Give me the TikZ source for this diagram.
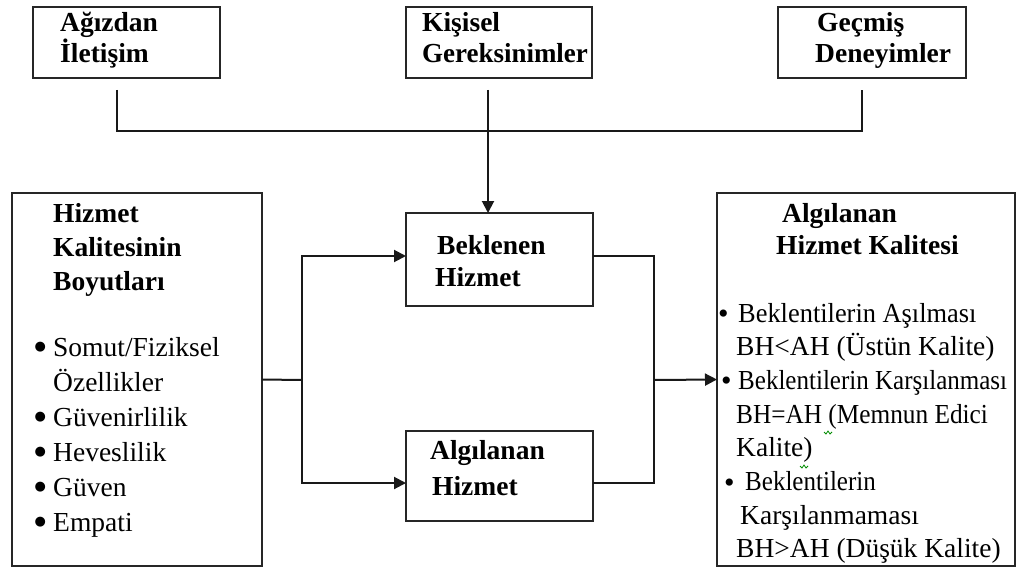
\documentclass[tikz,border=0pt]{standalone}
\usepackage{fontspec}
\setmainfont{Liberation Serif}
\newfontfamily\dejavu{DejaVu Sans}
\usetikzlibrary{arrows.meta}
\newcommand\lbul{\makebox[18pt][l]{\kern-0.5pt\raisebox{6pt}{\dejavu\fontsize{13}{13}\selectfont ●}}}
\newcommand\rbul{\raisebox{-1.5pt}{\fontsize{30}{30}\selectfont •}}
\newcommand\hs[2]{\scalebox{#1}[1]{#2}}
\begin{document}
\begin{tikzpicture}[x=1pt,y=-1pt,
  box/.style={draw=black!85, line width=1.5pt, rectangle, inner sep=0pt, outer sep=0pt, anchor=north west},
  conn/.style={draw=black!90, line width=2pt},
  arr/.style={conn, -{Triangle[length=12pt,width=12pt]}},
  txt/.style={anchor=base west, inner sep=0pt, font=\fontsize{27.5}{34}\selectfont},
  btxt/.style={anchor=base west, inner sep=0pt, font=\fontsize{27.5}{34}\selectfont\bfseries},
  squig/.style={draw=green!55!black, line width=0.8pt},
]
\useasboundingbox (0,0) rectangle (1016,567);

% boxes
\node[box, minimum width=187pt, minimum height=71pt] (agiz) at (33,7) {};
\node[box, minimum width=186pt, minimum height=71pt] (kisi) at (406,7) {};
\node[box, minimum width=188pt, minimum height=71pt] (gecmis) at (778,7) {};
\node[box, minimum width=187pt, minimum height=93pt] (bek) at (406,213) {};
\node[box, minimum width=187pt, minimum height=90pt] (alg) at (406,431) {};
\node[box, minimum width=250pt, minimum height=373pt] (boyut) at (12,193) {};
\node[box, minimum width=298pt, minimum height=373pt] (aq) at (717,193) {};

% texts
\node[btxt] (tagiz) at (60,31.5) {\vtop{\baselineskip=31pt \hbox{Ağızdan}\hbox{İletişim}}};
\node[btxt] (tkisi) at (422,31.5) {\vtop{\baselineskip=31pt \hbox{Kişisel}\hbox{\hs{0.98}{Gereksinimler}}}};
\node[btxt] (tgecmis) at (815,31.5) {\vtop{\baselineskip=31pt \hbox{\kern2pt Geçmiş}\hbox{Deneyimler}}};
\node[btxt] (tbek) at (435,254) {\vtop{\baselineskip=32pt \hbox{\kern2pt Beklenen}\hbox{Hizmet}}};
\node[btxt] (talg) at (430,459) {\vtop{\baselineskip=36pt \hbox{Algılanan}\hbox{\kern2pt Hizmet}}};
\node[btxt] (tboyut) at (53,222) {\vtop{\baselineskip=34pt \hbox{Hizmet}\hbox{Kalitesinin}\hbox{Boyutları}}};
\node[txt] (tboyutl) at (35,356) {\vtop{\baselineskip=35pt
  \hbox{\lbul Somut/Fiziksel}
  \hbox{\kern18pt Özellikler}
  \hbox{\lbul Güvenirlilik}
  \hbox{\lbul Heveslilik}
  \hbox{\lbul Güven}
  \hbox{\lbul Empati}}};
\node[btxt] (taq) at (776,222) {\vtop{\baselineskip=32pt \hbox{\kern6pt Algılanan}\hbox{Hizmet Kalitesi}}};
\node[txt] (taql) at (717,322) {\vtop{\baselineskip=33.7pt
  \hbox{\makebox[21pt][l]{\kern1pt\rbul}\hs{0.96}{Beklentilerin Aşılması}}
  \hbox{\kern19pt BH<AH (Üstün Kalite)}
  \hbox{\makebox[21pt][l]{\kern4pt\rbul}\hs{0.91}{Beklentilerin Karşılanması}}
  \hbox{\kern19pt \hs{0.92}{BH=AH (Memnun Edici}}
  \hbox{\kern19pt Kalite)}
  \hbox{\makebox[28pt][l]{\kern7pt\rbul}\hs{0.91}{Beklentilerin}}
  \hbox{\kern23pt Karşılanmaması}
  \hbox{\kern19pt BH>AH (Düşük Kalite)}}};

% spell-check squiggles
\draw[squig] (824,432) -- (826,434) -- (828,431) -- (830,434) -- (832,432);
\draw[squig] (800,466) -- (802,468) -- (804,465) -- (806,468) -- (808,466);

% connectors from top
\coordinate (a1) at (117,90);
\coordinate (b1) at (488,90);
\coordinate (c1) at (862,90);
\coordinate (jn) at (488,131);
\draw[conn] (a1) |- (jn) -| (c1);
\draw[arr] (b1) -- (bek.north -| b1);

% left split
\coordinate (sp) at (302,380);
\draw[conn] (boyut.east) -- (sp);
\draw[arr] (sp) |- (bek.west |- 0,256);
\draw[arr] (sp) |- (alg.west |- 0,483);

% right merge
\coordinate (mg) at (654,380);
\draw[conn] (bek.east |- 0,256) -| (mg) |- (alg.east |- 0,483);
\draw[arr] (mg) -- (aq.west);
\end{tikzpicture}
\end{document}
